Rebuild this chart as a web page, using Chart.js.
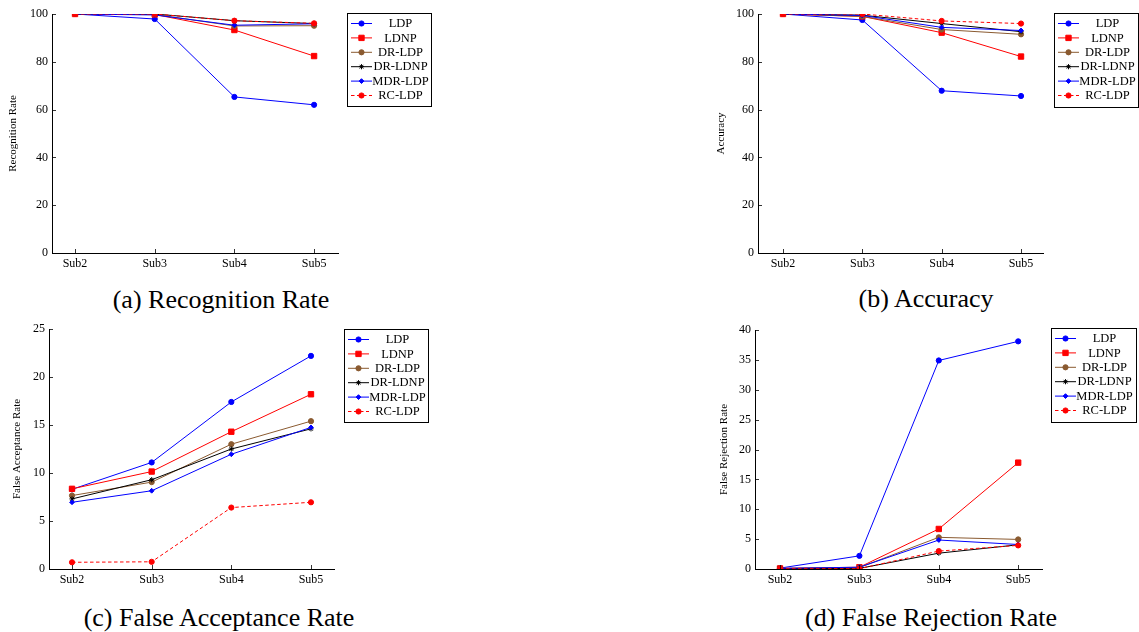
<!DOCTYPE html>
<html>
<head>
<meta charset="utf-8">
<script src="https://cdn.jsdelivr.net/npm/chart.js"></script>
<style>
  html, body { margin: 0; padding: 0; background: #fff; }
  body { width: 1139px; height: 632px; position: relative; overflow: hidden; }
  .plot { position: absolute; }
  .cap { position: absolute; font-family: 'Liberation Serif', 'Times New Roman', serif; font-size: 26px; color: #000; white-space: nowrap; transform: translate(-50%, -50%); }
</style>
</head>
<body>
<canvas id="cA" class="plot" style="left:0px;top:0px" width="440" height="280"></canvas>
<canvas id="cB" class="plot" style="left:700px;top:0px" width="439" height="280"></canvas>
<canvas id="cC" class="plot" style="left:0px;top:316px" width="440" height="280"></canvas>
<canvas id="cD" class="plot" style="left:700px;top:316px" width="439" height="280"></canvas>
<div class="cap" style="left:221px;top:300px">(a) Recognition Rate</div>
<div class="cap" style="left:926px;top:299px">(b) Accuracy</div>
<div class="cap" style="left:219px;top:618px">(c) False Acceptance Rate</div>
<div class="cap" style="left:931px;top:618px">(d) False Rejection Rate</div>
<script>
// ---- data ----
const categories = ['Sub2', 'Sub3', 'Sub4', 'Sub5'];
const seriesNames = ['LDP', 'LDNP', 'DR-LDP', 'DR-LDNP', 'MDR-LDP', 'RC-LDP'];

// (a) Recognition Rate
const rrLDP    = [100, 97.9, 65.3, 62.0];
const rrLDNP   = [100, 99.8, 93.3, 82.4];
const rrDRLDP  = [100, 99.8, 95.0, 95.1];
const rrDRLDNP = [100, 100, 97.2, 96.0];
const rrMDRLDP = [100, 99.6, 95.3, 95.9];
const rrRCLDP  = [100, 100, 97.2, 96.1];

// (b) Accuracy
const acLDP    = [100, 97.5, 67.9, 65.7];
const acLDNP   = [100, 99.0, 92.2, 82.2];
const acDRLDP  = [100, 99.0, 93.5, 91.5];
const acDRLDNP = [100, 99.5, 96.0, 92.6];
const acMDRLDP = [100, 99.4, 94.4, 93.1];
const acRCLDP  = [100, 100, 97.1, 96.0];

// (c) False Acceptance Rate
const faLDP    = [8.3, 11.1, 17.4, 22.2];
const faLDNP   = [8.35, 10.15, 14.3, 18.2];
const faDRLDP  = [7.65, 9.05, 13.0, 15.4];
const faDRLDNP = [7.3, 9.3, 12.5, 14.6];
const faMDRLDP = [6.95, 8.15, 11.95, 14.75];
const faRCLDP  = [0.7, 0.75, 6.4, 6.95];

// (d) False Rejection Rate
const frLDP    = [0.15, 2.2, 34.9, 38.1];
const frLDNP   = [0.1, 0.3, 6.7, 17.8];
const frDRLDP  = [0.1, 0.25, 5.3, 4.95];
const frDRLDNP = [0.05, 0.1, 2.65, 4.05];
const frMDRLDP = [0.1, 0.3, 4.85, 4.1];
const frRCLDP  = [0.05, 0.05, 3.0, 3.95];

// ---- styles ----
const seriesStyles = [
  { color: '#0000ff', point: 'circle',  radius: 2.6, dash: [] },
  { color: '#ff0000', point: 'rect',    radius: 3.8, dash: [] },
  { color: '#8a5a30', point: 'circle',  radius: 2.6, dash: [] },
  { color: '#000000', point: 'star',    radius: 2.6, dash: [] },
  { color: '#0000ff', point: 'rectRot', radius: 2.4, dash: [] },
  { color: '#ff0000', point: 'circle',  radius: 2.6, dash: [3.5, 2.5] }
];

const SERIF = "'Liberation Serif', 'Times New Roman', serif";

function drawMarker(ctx, st, x, y) {
  ctx.save();
  ctx.fillStyle = st.color;
  ctx.strokeStyle = st.color;
  ctx.lineWidth = 1;
  ctx.setLineDash([]);
  if (Chart.helpers && Chart.helpers.drawPoint) {
    Chart.helpers.drawPoint(ctx, { pointStyle: st.point, radius: st.radius, rotation: 0, borderWidth: 1 }, x, y);
  } else {
    ctx.beginPath(); ctx.arc(x, y, st.radius, 0, Math.PI * 2); ctx.fill();
  }
  ctx.restore();
}

const legendPlugin = {
  id: 'boxLegend',
  afterDraw(chart, args, opts) {
    const ctx = chart.ctx;
    const { x, y, w, h } = opts;
    ctx.save();
    ctx.fillStyle = '#fff';
    ctx.fillRect(x, y, w, h);
    ctx.strokeStyle = '#000';
    ctx.lineWidth = 1;
    ctx.strokeRect(x + 0.5, y + 0.5, w, h);
    ctx.font = '12.5px ' + SERIF;
    ctx.textAlign = 'center';
    ctx.textBaseline = 'middle';
    seriesNames.forEach((name, i) => {
      const st = seriesStyles[i];
      const ry = y + 10.5 + i * 14.4;
      ctx.save();
      ctx.strokeStyle = st.color;
      ctx.lineWidth = 1;
      ctx.setLineDash(st.dash);
      ctx.beginPath();
      ctx.moveTo(x + 4, ry);
      ctx.lineTo(x + 25, ry);
      ctx.stroke();
      ctx.restore();
      drawMarker(ctx, st, x + 14.5, ry);
      ctx.fillStyle = '#000';
      ctx.fillText(name, x + 53.5, ry + 0.5);
    });
    ctx.restore();
  }
};

const inwardTicks = {
  id: 'inwardTicks',
  afterDatasetsDraw(chart) {
    const ctx = chart.ctx;
    const xs = chart.scales.x, ys = chart.scales.y;
    ctx.save();
    ctx.strokeStyle = '#000';
    ctx.lineWidth = 0.8;
    ctx.beginPath();
    xs.ticks.forEach(t => {
      const px = Math.round(xs.getPixelForValue(t.value)) + 0.5;
      ctx.moveTo(px, xs.top);
      ctx.lineTo(px, xs.top - 4);
    });
    ys.ticks.forEach(t => {
      const py = Math.round(ys.getPixelForValue(t.value)) + 0.5;
      ctx.moveTo(ys.right, py);
      ctx.lineTo(ys.right + 4, py);
    });
    ctx.stroke();
    ctx.restore();
  }
};

function makeChart(id, seriesList, yTitle, yMax, yStep, layout) {
  const datasets = seriesList.map((vals, i) => {
    const st = seriesStyles[i];
    return {
      label: seriesNames[i],
      data: vals.map((v, j) => ({ x: j, y: v })),
      borderColor: st.color,
      backgroundColor: st.color,
      borderWidth: 1,
      borderDash: st.dash,
      pointStyle: st.point,
      pointRadius: st.radius,
      pointBorderWidth: 1,
      pointBackgroundColor: st.color,
      pointBorderColor: st.color,
      tension: 0,
      fill: false,
      order: seriesList.length - 1 - i
    };
  });
  return new Chart(document.getElementById(id), {
    type: 'line',
    data: { datasets },
    options: {
      responsive: false,
      animation: false,
      events: [],
      layout: { padding: { left: 0, right: layout.padRight, top: layout.padTop, bottom: 0 } },
      plugins: {
        legend: { display: false },
        tooltip: { enabled: false },
        boxLegend: layout.legend
      },
      scales: {
        x: {
          type: 'linear',
          min: layout.xMin,
          max: layout.xMax,
          grid: { display: false, drawTicks: false },
          border: { display: true, color: '#000', width: 1 },
          ticks: {
            includeBounds: false,
            color: '#000',
            padding: 4,
            font: { family: SERIF, size: 12 },
            callback: v => categories[v]
          },
          afterBuildTicks: s => { s.ticks = categories.map((c, j) => ({ value: j })); },
          afterFit: s => { s.height = 27; }
        },
        y: {
          min: 0,
          max: yMax,
          grid: { display: false, drawTicks: false },
          border: { display: true, color: '#000', width: 1 },
          ticks: {
            stepSize: yStep,
            color: '#000',
            padding: 4,
            font: { family: SERIF, size: 12 }
          },
          title: {
            display: true,
            text: yTitle,
            color: '#000',
            font: { family: SERIF, size: 11 },
            padding: { top: layout.titlePad, bottom: 0 }
          },
          afterFit: s => { s.width = layout.yWidth; }
        }
      }
    },
    plugins: [inwardTicks, legendPlugin]
  });
}

makeChart('cA', [rrLDP, rrLDNP, rrDRLDP, rrDRLDNP, rrMDRLDP, rrRCLDP], 'Recognition Rate', 100, 20,
  { yWidth: 52, padRight: 102, padTop: 14, xMin: -0.289, xMax: 3.30, titlePad: 6.4,
    legend: { x: 347, y: 13, w: 84, h: 93 } });
makeChart('cB', [acLDP, acLDNP, acDRLDP, acDRLDNP, acMDRLDP, acRCLDP], 'Accuracy', 100, 20,
  { yWidth: 58, padRight: 96, padTop: 14, xMin: -0.315, xMax: 3.277, titlePad: 14.4,
    legend: { x: 354, y: 13, w: 84, h: 94 } });
makeChart('cC', [faLDP, faLDNP, faDRLDP, faDRLDNP, faMDRLDP, faRCLDP], 'False Acceptance Rate', 25, 5,
  { yWidth: 49, padRight: 106, padTop: 13, xMin: -0.289, xMax: 3.289, titlePad: 10.4,
    legend: { x: 344, y: 13, w: 84, h: 93 } });
makeChart('cD', [frLDP, frLDNP, frDRLDP, frDRLDNP, frMDRLDP, frRCLDP], 'False Rejection Rate', 40, 5,
  { yWidth: 55, padRight: 97, padTop: 14, xMin: -0.315, xMax: 3.30, titlePad: 17.4,
    legend: { x: 351, y: 12, w: 85, h: 94 } });
</script>
</body>
</html>
